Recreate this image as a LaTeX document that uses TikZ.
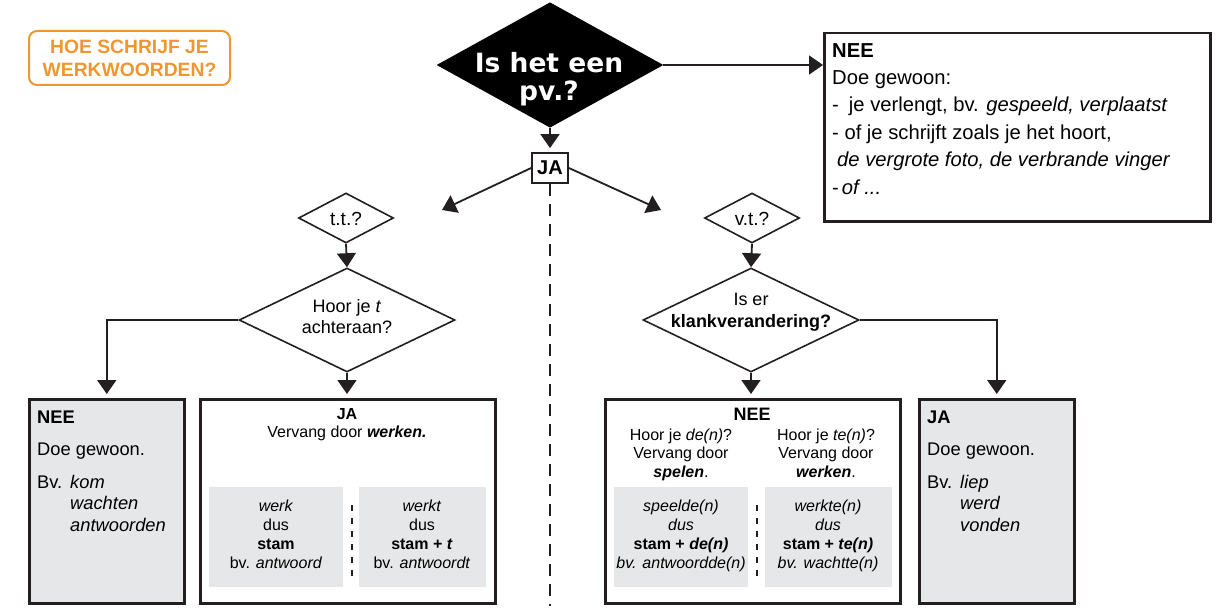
\documentclass[tikz,border=0pt]{standalone}
\usepackage{fontspec}
\setmainfont{Liberation Sans}
\newfontfamily\zwaarfont{DejaVu Sans}
\usetikzlibrary{shapes.geometric,arrows.meta}

\definecolor{oranje}{RGB}{240,150,48}
\definecolor{grijs}{RGB}{230,231,232}
\definecolor{donker}{RGB}{35,31,32}

\tikzset{
  ruit/.style={diamond, draw=donker, line width=1.6pt, inner sep=0pt},
  vak/.style={rectangle, draw=donker, line width=2.5pt, inner sep=0pt, anchor=north west},
  grijsvak/.style={rectangle, fill=grijs, inner sep=0pt, anchor=north west},
  pijl/.style={line width=1.8pt, draw=donker, -{Triangle[length=14pt,width=19pt]}},
  scheiding/.style={line width=2pt, draw=donker, dash pattern=on 6pt off 7pt},
  tekst/.style={inner sep=0pt, anchor=base west},
  midden/.style={inner sep=0pt, anchor=base, align=center},
  groot/.style={font=\fontsize{18.3}{21.8}\selectfont},
  klein/.style={font=\fontsize{16}{19.2}\selectfont},
}

\begin{document}
\begin{tikzpicture}[x=1pt,y=-1pt]
\useasboundingbox (0,0) rectangle (1225,615);

% titel
\node[draw=oranje, line width=2pt, rounded corners=8pt, minimum width=201pt, minimum height=54pt, inner sep=0pt,
  text=oranje, align=center, font=\fontsize{19.3}{23}\selectfont\bfseries] (titel) at (129.5,58) {HOE SCHRIJF JE\\WERKWOORDEN?};

% hoofdvraag (meerregelige tekst: base = laatste regel)
\node[ruit, fill=black, draw=black, minimum width=224pt, minimum height=124pt] (pv) at (550,65) {};
\node[midden, text=white, font=\zwaarfont\fontsize{26.5}{27.5}\selectfont\bfseries] (pvtekst) at (549,100.5) {Is het een\\pv.?};
\node[draw=donker, line width=1.8pt, minimum width=36pt, minimum height=30pt, inner sep=0pt,
  font=\fontsize{20}{24}\selectfont\bfseries] (ja) at (550,168) {JA};

% nee: geen pv
\node[vak, minimum width=386pt, minimum height=188pt] (nee) at (823,32) {};
\node[tekst, align=left, font=\fontsize{20.2}{27.4}\selectfont] (neetekst) at (832,194)
  {\textbf{NEE}\\Doe gewoon:\\-\hspace*{10pt}je verlengt, bv. \textit{gespeeld, verplaatst}\\- of je schrijft zoals je het hoort,\\\hspace*{5pt}\textit{de vergrote foto, de verbrande vinger}\\-\hspace*{3pt}\textit{of ...}};

% vragen
\node[ruit, minimum width=95pt, minimum height=50pt] (tt) at (346,218) {};
\node[midden, font=\fontsize{19}{22}\selectfont] (tttekst) at (346,225) {t.t.?};
\node[ruit, minimum width=95pt, minimum height=50pt] (vt) at (752,218) {};
\node[midden, font=\fontsize{19}{22}\selectfont] (vttekst) at (752,225) {v.t.?};
\node[ruit, minimum width=216pt, minimum height=104pt] (hoor) at (347,320) {};
\node[midden, font=\fontsize{18}{21}\selectfont] (hoortekst) at (347,333) {Hoor je \textit{t}\\achteraan?};
\node[ruit, minimum width=216pt, minimum height=104pt] (klank) at (751,320) {};
\node[midden, font=\fontsize{18}{22}\selectfont] (klanktekst) at (751,327) {Is er\\\textbf{klankverandering?}};

% onderste vakken
\node[vak, fill=grijs, minimum width=155pt, minimum height=204pt] (tnee) at (28,398) {};
\node[vak, fill=white, minimum width=295pt, minimum height=204pt] (tja) at (199,398) {};
\node[vak, fill=white, minimum width=295pt, minimum height=204pt] (vnee) at (604,398) {};
\node[vak, fill=grijs, minimum width=155pt, minimum height=204pt] (vja) at (918,398) {};

% t.t. nee
\node[tekst, groot] (tneekop) at (37,423) {\textbf{NEE}};
\node[tekst, groot] (tneedoe) at (37,455) {Doe gewoon.};
\node[tekst, groot] (tneebv) at (37,488) {Bv.};
\node[tekst, groot, align=left] (tneevb) at (70,531.6) {\textit{kom}\\\textit{wachten}\\\textit{antwoorden}};

% t.t. ja
\node[midden, font=\fontsize{16}{18}\selectfont] (tjakop) at (347,437) {\textbf{JA}\\Vervang door \textbf{\textit{werken.}}};
\node[grijsvak, minimum width=134pt, minimum height=100pt] (stam) at (209,487) {};
\node[grijsvak, minimum width=127pt, minimum height=100pt] (stamt) at (359,487) {};
\draw[scheiding] (352,505) -- (352,583);
\node[midden, klein] (stamtekst) at (276,568.6) {\textit{werk}\\dus\\\textbf{stam}\\bv. \textit{antwoord}};
\node[midden, klein] (stamttekst) at (422,568.6) {\textit{werkt}\\dus\\\textbf{stam + \textit{t}}\\bv. \textit{antwoordt}};

% v.t. nee
\node[midden, font=\fontsize{18}{22}\selectfont\bfseries] (vneekop) at (752,420) {NEE};
\node[midden, font=\fontsize{16}{18.5}\selectfont] (denvraag) at (681,477) {Hoor je \textit{de(n)}?\\Vervang door\\\textbf{\textit{spelen}}.};
\node[midden, font=\fontsize{16}{18.5}\selectfont] (tenvraag) at (826,477) {Hoor je \textit{te(n)}?\\Vervang door\\\textbf{\textit{werken}}.};
\node[grijsvak, minimum width=134pt, minimum height=100pt] (den) at (614,487) {};
\node[grijsvak, minimum width=127pt, minimum height=100pt] (ten) at (765,487) {};
\draw[scheiding] (757,505) -- (757,583);
\node[midden, klein] (dentekst) at (681,568.6) {\textit{speelde(n)}\\\textit{dus}\\\textbf{stam + \textit{de(n)}}\\\textit{bv. antwoordde(n)}};
\node[midden, klein] (tentekst) at (828,568.6) {\textit{werkte(n)}\\\textit{dus}\\\textbf{stam + \textit{te(n)}}\\\textit{bv. wachtte(n)}};

% v.t. ja
\node[tekst, groot] (vjakop) at (927,423) {\textbf{JA}};
\node[tekst, groot] (vjadoe) at (927,455) {Doe gewoon.};
\node[tekst, groot] (vjabv) at (927,488) {Bv.};
\node[tekst, groot, align=left] (vjavb) at (960,531.6) {\textit{liep}\\\textit{werd}\\\textit{vonden}};

% pijlen
\coordinate (linkspijl) at (442,210);
\coordinate (rechtspijl) at (661,210);
\coordinate (onder) at (550,606);
\draw[pijl] (pv.east) -- (pv.east -| nee.west);
\draw[pijl, shorten >=4pt] (pv.south) -- (ja.north);
\draw[pijl] (ja.west) -- (linkspijl);
\draw[pijl] (ja.east) -- (rechtspijl);
\draw[line width=2pt, draw=donker, dash pattern=on 12pt off 8pt] (ja.south) -- (onder);
\draw[pijl] (tt.south) -- (hoor.north);
\draw[pijl] (vt.south) -- (klank.north);
\draw[pijl, shorten >=4pt] (hoor.south) -- (hoor.south |- tja.north);
\draw[pijl, shorten >=4pt] (hoor.west) -| (tnee.north);
\draw[pijl, shorten >=4pt] (klank.south) -- (klank.south |- vnee.north);
\draw[pijl, shorten >=4pt] (klank.east) -| (vja.north);
\end{tikzpicture}
\end{document}
